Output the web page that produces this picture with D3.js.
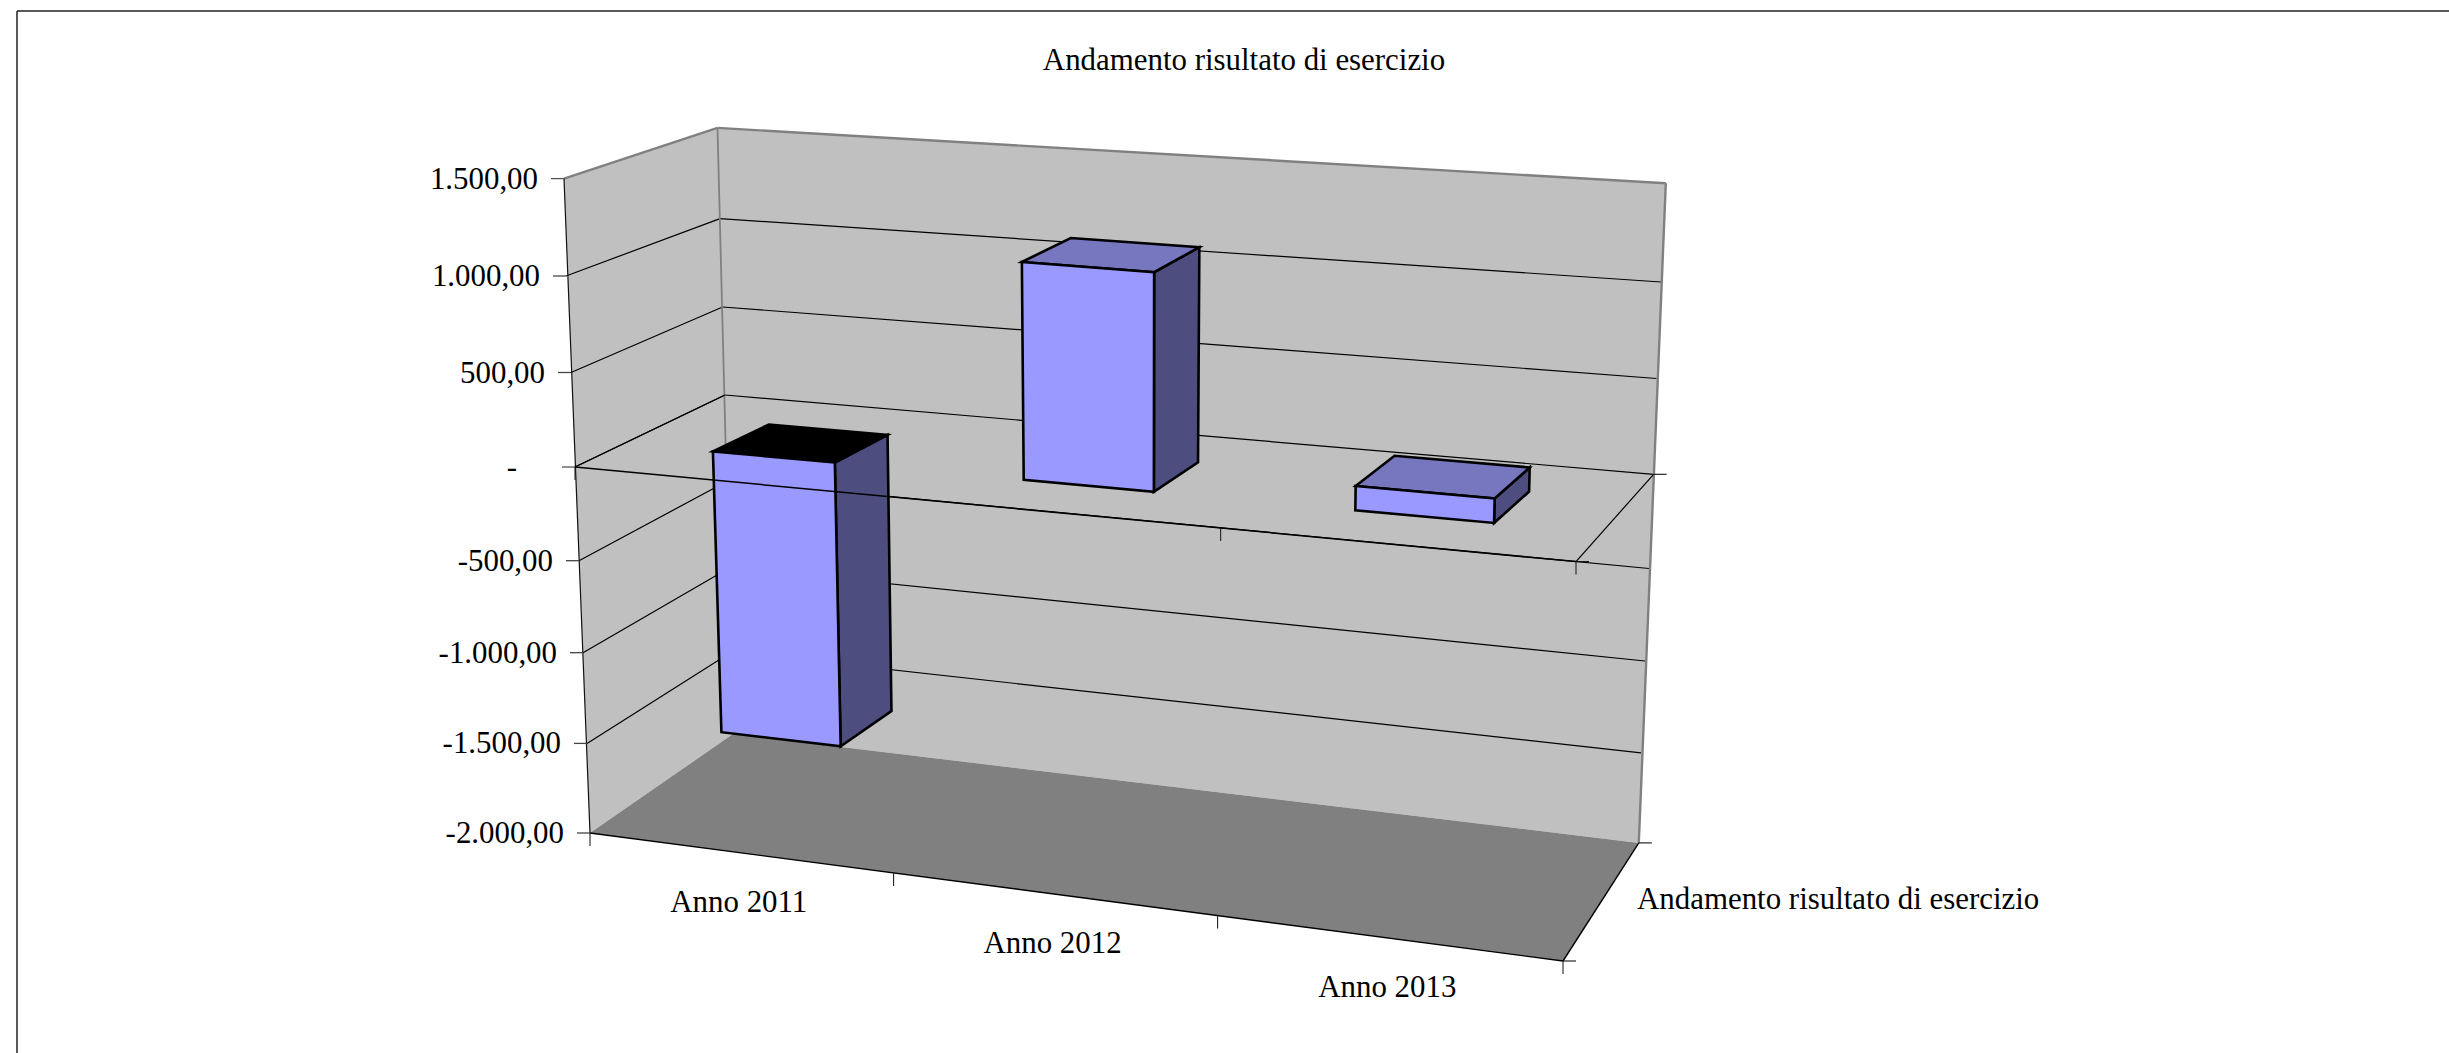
<!DOCTYPE html>
<html><head><meta charset="utf-8">
<script src="https://cdn.jsdelivr.net/npm/d3@7"></script>
<style>html,body{margin:0;padding:0;background:#fff;overflow:hidden}svg{display:block}
text{font-family:"Liberation Serif","Times New Roman",serif;fill:#000;font-size:30.9px}</style>
</head><body><svg id="c" width="2449" height="1053"></svg>
<script>
const chartTitle = "Andamento risultato di esercizio";
const seriesName = "Andamento risultato di esercizio";
const categories = ["Anno 2011", "Anno 2012", "Anno 2013"];
const barValues = [-1550, 1140, 125];
const tickValues = [1500, 1000, 500, 0, -500, -1000, -1500, -2000];
const tickLabels = ["1.500,00", "1.000,00", "500,00", "-", "-500,00", "-1.000,00", "-1.500,00", "-2.000,00"];

// Perspective calibration: one value scale per vertical edge of the 3D box
const edge = (xs, ys, dom = tickValues) => ({
  x: d3.scaleLinear().domain(dom).range(xs),
  y: d3.scaleLinear().domain(dom).range(ys)
});
const FL = edge([564, 566, 571, 575, 579, 583, 587, 590], [178.6, 276, 372.5, 467, 560.7, 652.7, 743.4, 833]);
const BL = edge([717.5, 720, 722.6, 725, 727.5, 730, 731.5, 733], [127.9, 218.6, 307, 395, 481, 567.5, 652, 734]);
const BR = edge([1665.8, 1661, 1656.6, 1653.6, 1649, 1645, 1641, 1638.8], [183.3, 282, 378.5, 474.3, 568.5, 661, 752.8, 842.9]);
const FR = edge([1585, 1576, 1563], [262, 561.6, 961], [1500, 0, -2000]);
const tCat = d3.scaleLinear().domain([0, 1, 2, 3]).range([0, 0.312, 0.645, 1]);
const lerp = (a, b, t) => a + (b - a) * t;
function P(u, v, w) {
  const t = tCat(u);
  const lx = lerp(FL.x(v), BL.x(v), w), ly = lerp(FL.y(v), BL.y(v), w);
  const rx = lerp(FR.x(v), BR.x(v), w), ry = lerp(FR.y(v), BR.y(v), w);
  return [lerp(lx, rx, t), lerp(ly, ry, t)];
}
const svg = d3.select("#c");
const poly = (pts, fill, stroke, sw) => svg.append("polygon")
  .attr("points", pts.map(p => p.join(",")).join(" "))
  .attr("fill", fill).attr("stroke", stroke || "none").attr("stroke-width", sw || 0)
  .attr("stroke-linejoin", "miter");
const line = (a, b, stroke = "#000", sw = 1.2) => svg.append("line")
  .attr("x1", a[0]).attr("y1", a[1]).attr("x2", b[0]).attr("y2", b[1])
  .attr("stroke", stroke).attr("stroke-width", sw);

// page frame
line([17, 11], [2449, 11], "#222", 1.5);
line([17, 11], [17, 1053], "#222", 1.5);

const vMax = 1500, vMin = -2000;
// walls + floor
poly([P(0, vMax, 1), P(3, vMax, 1), P(3, vMin, 1), P(0, vMin, 1)], "#c0c0c0");
poly([P(0, vMax, 0), P(0, vMax, 1), P(0, vMin, 1), P(0, vMin, 0)], "#c0c0c0");
poly([P(0, vMin, 0), P(0, vMin, 1), P(3, vMin, 1), P(3, vMin, 0)], "#808080");

// gridlines
tickValues.slice(1, -1).forEach(v => {
  line(P(0, v, 0), P(0, v, 1));
  line(P(0, v, 1), P(3, v, 1));
});
// wall borders
line(P(0, vMax, 0), P(0, vMax, 1), "#808080", 2.4);
line(P(0, vMax, 1), P(3, vMax, 1), "#808080", 2.4);
line(P(3, vMax, 1), P(3, vMin, 1), "#808080", 2.4);
line(P(0, vMax, 1), P(0, vMin, 1), "#808080", 1.8);

// value axis and ticks
line(P(0, vMax, 0), P(0, vMin, 0), "#111", 1.2);
tickValues.forEach(v => {
  const p = P(0, v, 0);
  line([p[0] - 13, p[1]], p, v === vMax || v === 0 ? "#555" : "#444", 1.3);
});
// floor axis
line(P(0, vMin, 0), P(3, vMin, 0), "#000", 1.4);
line(P(3, vMin, 0), P(3, vMin, 1), "#000", 1.4);
d3.range(0, 4).forEach(u => {
  const p = P(u, vMin, 0), q = P(u, 0, 0);
  line(p, [p[0], p[1] + 13], "#222", 1.1);
  line(q, [q[0], q[1] + 13], "#222", 1.1);
});
[P(3, vMin, 1), P(3, vMin, 0), P(3, 0, 1), P(3, 0, 0)].forEach(p => line(p, [p[0] + 13, p[1]], "#111", 1.1));
line(P(3, 0, 0), P(3, 0, 1), "#000", 1.2);

// bars
const w0 = 0.33, w1 = 0.7, uPad = 0.3, frontShift = -0.01;
barValues.forEach((val, i) => {
  const uL = i + uPad, uR = i + 1 - uPad;
  const fL = uL + frontShift, fR = uR + frontShift;
  const hi = Math.max(val, 0), lo = Math.min(val, 0);
  const sw = 2.6;
  poly([P(fR, hi, w0), P(uR, hi, w1), P(uR, lo, w1), P(fR, lo, w0)], "#4d4d80", "#000", sw);
  poly([P(fL, hi, w0), P(uL, hi, w1), P(uR, hi, w1), P(fR, hi, w0)], val < 0 ? "#000000" : "#7777bf", "#000", sw);
  poly([P(fL, hi, w0), P(fR, hi, w0), P(fR, lo, w0), P(fL, lo, w0)], "#9999ff", "#000", sw);
});
// zero axis passes in front of the bars
line(P(0, 0, 0), P(0, 0, 1), "#000", 1.2);
line(P(0, 0, 0), P(3, 0, 0), "#000", 1.5);

// text
svg.append("text").attr("x", 1244).attr("y", 70).attr("text-anchor", "middle").text(chartTitle);
tickValues.forEach((v, i) => {
  const p = P(0, v, 0);
  svg.append("text").attr("text-anchor", "end")
    .attr("x", p[0] - (v === 0 ? 58 : 26)).attr("y", p[1] + 10).text(tickLabels[i]);
});
categories.forEach((c, i) => {
  const p = P(i + 0.5, vMin, 0);
  svg.append("text").attr("text-anchor", "middle").attr("x", p[0] - 3).attr("y", p[1] + 59).text(c);
});
svg.append("text").attr("x", 1637).attr("y", 909).text(seriesName);
</script></body></html>
